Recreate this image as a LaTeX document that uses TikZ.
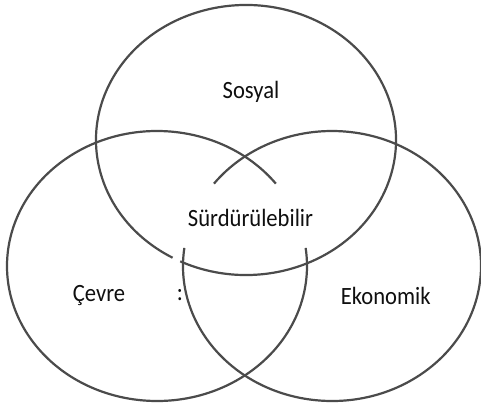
\documentclass[tikz,border=0pt]{standalone}
\usepackage{fontspec}
\setmainfont{Carlito}
\definecolor{ringcol}{RGB}{75,75,75}
\definecolor{txtcol}{RGB}{15,15,15}
\begin{document}
\begin{tikzpicture}[x=1pt,y=1pt,
  ring/.style={draw=ringcol,line width=2.2pt},
  lbl/.style={text=txtcol,font=\fontsize{22.6}{27}\selectfont,anchor=base,inner sep=0pt,yscale=1.1,transform shape}]
\useasboundingbox (0,0) rectangle (481,402);
\fill[white] (0,0) rectangle (481,402);
% centres
\coordinate (cT) at (246,262);
\coordinate (cL) at (157,136);
\coordinate (cR) at (332,136);
% top ellipse (Sosyal), small gap at lower left
\draw[ring] (cT) ++(244:150 and 135) arc[start angle=244, end angle=600.7, x radius=150, y radius=135];
% left ellipse (Cevre), open inside top ellipse
\draw[ring] (cL) ++(37.6:150 and 135) arc[start angle=37.6, end angle=367.7, x radius=150, y radius=135];
% right ellipse (Ekonomik), open inside top ellipse
\draw[ring] (cR) ++(172.3:149 and 135) arc[start angle=172.3, end angle=502.4, x radius=149, y radius=135];
% labels
\node[lbl] (sosyal) at (251,303) {Sosyal};
\node[lbl] (surd) at (250.5,175.5) {Sürdürülebilir};
\node[lbl] (cevre) at (99,100.5) {Çevre};
\node[lbl] (eko) at (385.7,98) {Ekonomik};
\node[lbl] (colon) at (180,102) {:};
\end{tikzpicture}
\end{document}
